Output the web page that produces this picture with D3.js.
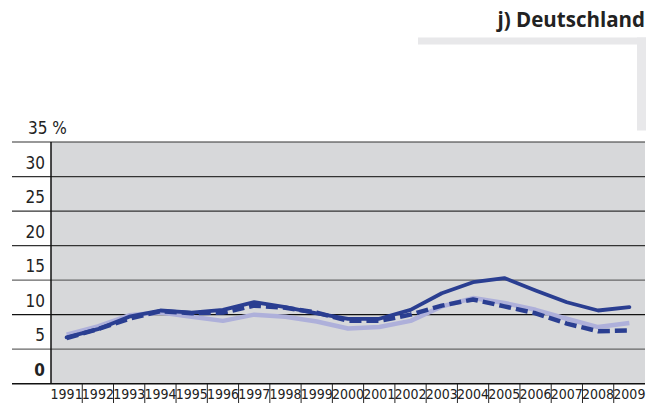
<!DOCTYPE html>
<html>
<head>
<meta charset="utf-8">
<script src="https://cdn.jsdelivr.net/npm/d3@7"></script>
<style>
  body { margin: 0; background: #fff; }
  text { font-family: "Liberation Sans Narrow", "DejaVu Sans Condensed", "Open Sans", sans-serif; }
</style>
</head>
<body>
<script>
// values (percent)
var years = ["1991","1992","1993","1994","1995","1996","1997","1998","1999","2000",
             "2001","2002","2003","2004","2005","2006","2007","2008","2009"];
var solidSeries  = [6.7, 7.9, 9.7, 10.6, 10.3, 10.7, 11.8, 11.1, 10.2, 9.4, 9.4, 10.7, 13.1, 14.7, 15.3, 13.5, 11.8, 10.6, 11.1];
var dashedSeries = [6.6, 7.9, 9.4, 10.5, 10.2, 10.3, 11.3, 11.0, 10.3, 9.1, 9.1, 10.0, 11.3, 12.2, 11.2, 10.2, 8.7, 7.6, 7.7];
var lightSeries  = [7.1, 8.3, 9.9, 10.3, 9.7, 9.1, 10.0, 9.7, 9.0, 8.0, 8.2, 9.1, 11.2, 12.4, 11.7, 10.7, 9.4, 8.2, 8.8];
var yTicks = [0, 5, 10, 15, 20, 25, 30, 35];

var width = 659, height = 403;
var plotLeft = 51, plotRight = 645, plotTop = 142, plotBottom = 383.7;

var svg = d3.select("body")
            .append("svg")
            .attr("width", width)
            .attr("height", height);

// title + decoration
svg.append("rect").attr("x", 418).attr("y", 37.5).attr("width", 228).attr("height", 7).attr("fill", "#e8e8ea");
svg.append("rect").attr("x", 637).attr("y", 37.5).attr("width", 9).attr("height", 93).attr("fill", "#e8e8ea");
svg.append("text")
   .attr("x", 645).attr("y", 27)
   .attr("text-anchor", "end")
   .attr("font-size", "20.5px")
   .attr("font-weight", "bold")
   .style("font-family", "'Open Sans', sans-serif")
   .attr("fill", "#222")
   .text("j) Deutschland");

var x = d3.scaleBand().domain(years).range([plotLeft, plotRight]);
var y = d3.scaleLinear().domain([0, 35]).range([plotBottom, plotTop]);

// plot background
svg.append("rect")
   .attr("x", plotLeft).attr("y", plotTop)
   .attr("width", plotRight - plotLeft).attr("height", plotBottom - plotTop)
   .attr("fill", "#d7d8da");

// grid lines
svg.selectAll("line.grid")
   .data(yTicks)
   .enter()
   .append("line")
   .attr("class", "grid")
   .attr("x1", 12).attr("x2", plotRight)
   .attr("y1", function(d) { return y(d); })
   .attr("y2", function(d) { return y(d); })
   .attr("stroke", function(d) { return (d == 10 || d == 0) ? "#111" : (d >= 20 ? "#333" : "#666"); })
   .attr("stroke-width", function(d) { return d == 0 ? 1.6 : 1.2; });

// tick labels sit above their line
svg.selectAll("text.ylab")
   .data(yTicks)
   .enter()
   .append("text")
   .attr("class", "ylab")
   .attr("x", function(d) { return d == 35 ? 28 : 45; })
   .attr("y", function(d) { return y(d) - 8; })
   .attr("text-anchor", function(d) { return d == 35 ? "start" : "end"; })
   .attr("font-size", "17px")
   .attr("font-weight", function(d) { return d == 0 ? "bold" : "normal"; })
   .attr("fill", "#222")
   .text(function(d) { return d == 35 ? "35 %" : d; });

// y axis line
svg.append("line")
   .attr("x1", plotLeft).attr("x2", plotLeft)
   .attr("y1", plotTop).attr("y2", plotBottom)
   .attr("stroke", "#111").attr("stroke-width", 1.5);

// x axis separators and labels
svg.selectAll("line.sep")
   .data(years.slice(1))
   .enter()
   .append("line")
   .attr("class", "sep")
   .attr("x1", function(d) { return x(d); })
   .attr("x2", function(d) { return x(d); })
   .attr("y1", plotBottom).attr("y2", height)
   .attr("stroke", "#222").attr("stroke-width", 1);

svg.selectAll("text.xlab")
   .data(years)
   .enter()
   .append("text")
   .attr("class", "xlab")
   .attr("x", function(d) { return x(d) + x.bandwidth() / 2; })
   .attr("y", 399)
   .attr("text-anchor", "middle")
   .attr("font-size", "14px")
   .attr("fill", "#222")
   .text(function(d) { return d; });

var line = d3.line()
   .x(function(d, i) { return x(years[i]) + x.bandwidth() / 2; })
   .y(function(d) { return y(d); })
   .curve(d3.curveLinear);

svg.append("path")
   .attr("d", line(lightSeries))
   .attr("fill", "none")
   .attr("stroke", "#aeb0da")
   .attr("stroke-width", 4.5)
   .attr("stroke-linejoin", "round");

svg.append("path")
   .attr("d", line(dashedSeries))
   .attr("fill", "none")
   .attr("stroke", "#2a3e91")
   .attr("stroke-width", 4.5)
   .attr("stroke-dasharray", "12,5")
   .attr("stroke-linejoin", "round");

svg.append("path")
   .attr("d", line(solidSeries))
   .attr("fill", "none")
   .attr("stroke", "#2a3e91")
   .attr("stroke-width", 3.8)
   .attr("stroke-linejoin", "round")
   .attr("stroke-linecap", "round");
</script>
</body>
</html>
